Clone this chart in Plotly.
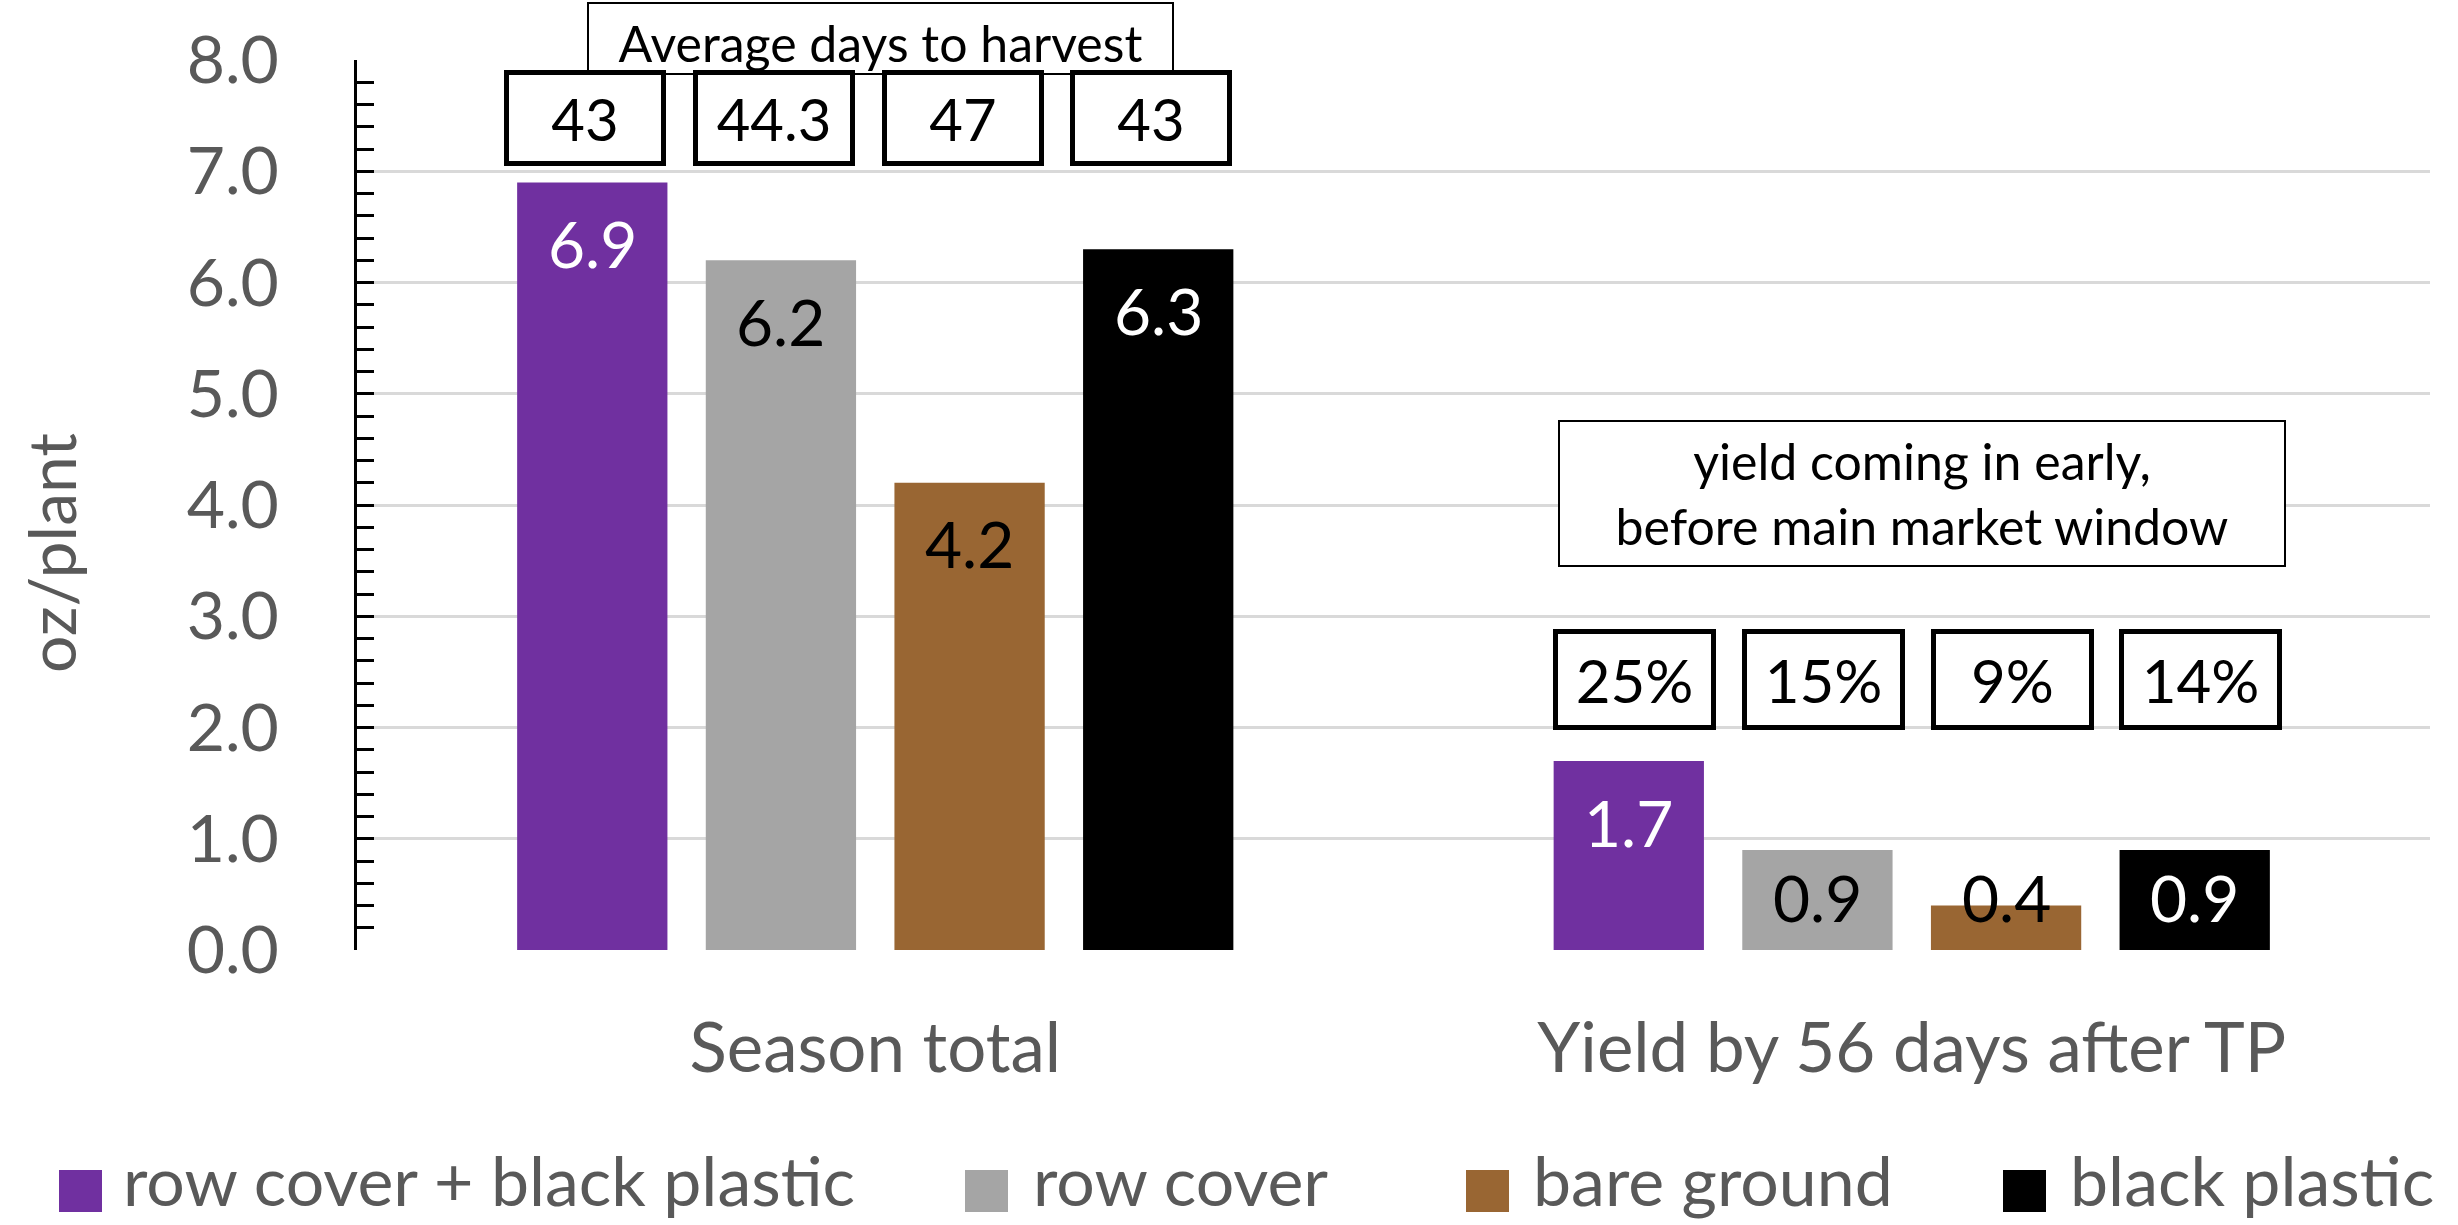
import plotly.graph_objects as go

# --- data ---------------------------------------------------------------
categories = ["Season total", "Yield by 56 days after TP"]
treatments = ["row cover + black plastic", "row cover", "bare ground", "black plastic"]
season_total = [6.9, 6.2, 4.2, 6.3]          # oz/plant
early_yield = [1.7, 0.9, 0.4, 0.9]           # oz/plant by 56 days after TP
days_to_harvest = ["43", "44.3", "47", "43"]
early_share = ["25%", "15%", "9%", "14%"]

# --- styling --------------------------------------------------------------
colors = ["#7030A0", "#A5A5A5", "#996633", "#000000"]
label_colors = ["white", "black", "black", "white"]
FONT = "Lato, 'Open Sans', sans-serif"
AXIS_GREY = "#595959"

W, H = 2458, 1225
L, R, T, B = 357, 28, 60, 275
PW, PH = W - L - R, H - T - B


def px_x(px):
    return (px - L) / PW


def px_y(py):
    return (H - B - py) / PH


slot = 0.182
bar_w = 0.145
offsets = [(i - 1.5) * slot for i in range(len(treatments))]

fig = go.Figure()
series = [season_total, early_yield]
for i, name in enumerate(treatments):
    fig.add_trace(go.Bar(
        x=[c + offsets[i] for c in range(len(categories))],
        y=[s[i] for s in series],
        width=bar_w,
        name=name,
        marker=dict(color=colors[i], line=dict(width=0)),
        showlegend=False,
        hoverinfo="skip",
    ))

annotations = []
centered = dict(xanchor="center", yanchor="middle", showarrow=False)

# value labels inside the top of each bar
for ci, vals in enumerate(series):
    for i, v in enumerate(vals):
        annotations.append(dict(
            x=ci + offsets[i], y=max(v - 0.55, 0.47), xref="x", yref="y",
            text=f"{v:.1f}", **centered,
            font=dict(family=FONT, size=64, color=label_colors[i]),
        ))

# "Average days to harvest" header box (drawn first so the day boxes overlap it)
annotations.append(dict(
    x=px_x(880), y=px_y(38), xref="paper", yref="paper",
    text="Average days to harvest", **centered,
    width=583, height=69, valign="bottom", borderpad=0,
    bordercolor="#000000", borderwidth=2, bgcolor="white",
    font=dict(family=FONT, size=50, color="black"),
))

# day-to-harvest boxes over the season-total bars
for i, d in enumerate(days_to_harvest):
    annotations.append(dict(
        x=0 + offsets[i], y=px_y(118), xref="x", yref="paper", xshift=-7,
        text=d, **centered, width=152, height=86, borderpad=0,
        bordercolor="#000000", borderwidth=5, bgcolor="white",
        font=dict(family=FONT, size=58, color="black"),
    ))

# early-yield note box
annotations.append(dict(
    x=px_x(1922), y=px_y(493), xref="paper", yref="paper",
    text="yield coming in early,<br>before main market window", **centered,
    width=724, height=143, borderpad=0,
    bordercolor="#000000", borderwidth=2, bgcolor="white",
    font=dict(family=FONT, size=50, color="black"),
))

# share-of-season boxes over the early-yield bars
for i, p in enumerate(early_share):
    annotations.append(dict(
        x=1 + offsets[i], y=px_y(679), xref="x", yref="paper", xshift=6,
        text=p, **centered, width=153, height=91, borderpad=0,
        bordercolor="#000000", borderwidth=5, bgcolor="white",
        font=dict(family=FONT, size=60, color="black"),
    ))

# y-axis title
annotations.append(dict(
    x=px_x(50), y=px_y(553), xref="paper", yref="paper",
    text="oz/plant", textangle=-90, **centered,
    font=dict(family=FONT, size=66, color=AXIS_GREY),
))

# legend row
shapes = []
swatch_left = [59, 965, 1466, 2003]
text_left = [121, 1031, 1531, 2068]
for i, name in enumerate(treatments):
    shapes.append(dict(
        type="rect", xref="paper", yref="paper",
        x0=px_x(swatch_left[i]), x1=px_x(swatch_left[i] + 43),
        y0=px_y(1170), y1=px_y(1212),
        fillcolor=colors[i], line=dict(width=0),
    ))
    annotations.append(dict(
        x=px_x(text_left[i]), y=px_y(1179), xref="paper", yref="paper",
        xanchor="left", yanchor="middle", text=name, showarrow=False,
        font=dict(family=FONT, size=68, color=AXIS_GREY),
    ))

fig.update_layout(
    width=W, height=H,
    margin=dict(l=L, r=R, t=T, b=B, pad=0),
    paper_bgcolor="white", plot_bgcolor="white",
    font=dict(family=FONT, color=AXIS_GREY),
    annotations=annotations,
    shapes=shapes,
    showlegend=False,
    xaxis=dict(
        range=[-0.5, 1.5],
        tickvals=list(range(len(categories))),
        ticktext=categories,
        showgrid=False, zeroline=False, showline=False, ticks="",
        ticklabelstandoff=52,
        tickfont=dict(family=FONT, size=69, color=AXIS_GREY),
        fixedrange=True,
    ),
    yaxis=dict(
        range=[0, 8], dtick=1, tickformat=".1f",
        showgrid=True, gridcolor="#D9D9D9", gridwidth=3,
        zeroline=False,
        showline=True, linecolor="black", linewidth=3,
        ticks="inside", ticklen=17, tickwidth=3, tickcolor="black",
        minor=dict(dtick=0.2, ticks="inside", ticklen=17, tickwidth=3,
                   tickcolor="black", showgrid=False),
        ticklabelstandoff=62,
        tickfont=dict(family=FONT, size=66, color=AXIS_GREY),
        fixedrange=True,
    ),
)

fig.write_html("out.html")
